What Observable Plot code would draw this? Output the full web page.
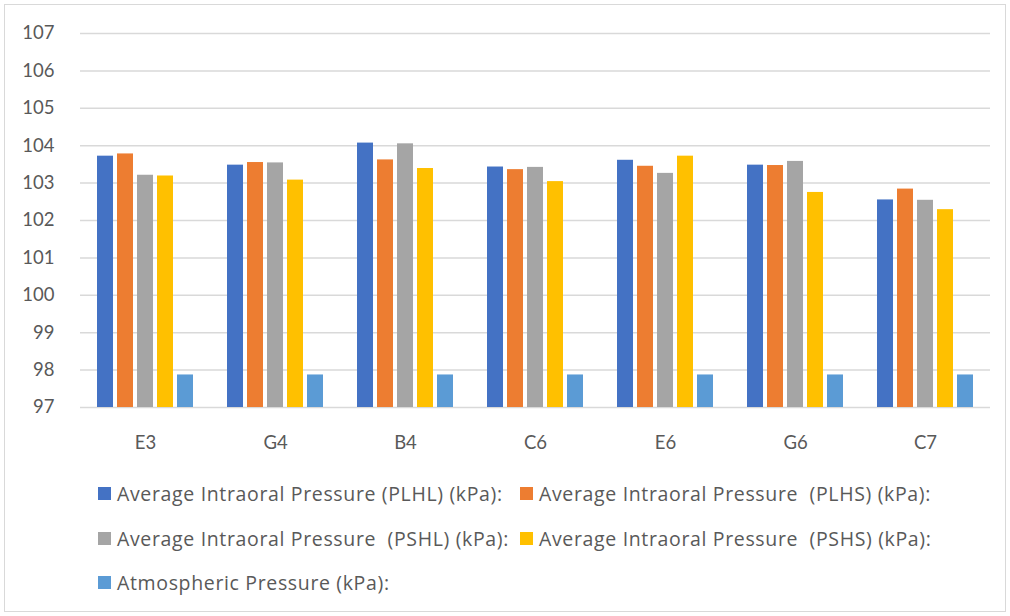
<!DOCTYPE html>
<html>
<head>
<meta charset="utf-8">
<script src="https://cdn.jsdelivr.net/npm/d3@7"></script>
<script src="https://cdn.jsdelivr.net/npm/@observablehq/plot@0.6"></script>
<style>
  body { margin: 0; width: 1010px; height: 616px; position: relative; background: #fff; font-family: "Open Sans", Lato, sans-serif; }
  #frame { position: absolute; left: 4px; top: 4px; width: 1002px; height: 608px; border: 1px solid #d9d9d9; box-sizing: border-box; }
  #chart { position: absolute; left: 0; top: 0; }
  .item { position: absolute; height: 24px; display: flex; align-items: center; white-space: pre; font-size: 19.5px; letter-spacing: 0.65px; color: #595959; }
  .sw { width: 13px; height: 13px; margin-right: 6px; flex: none; }
</style>
</head>
<body>
<div id="frame"></div>
<div id="chart"></div>
<div id="legend"></div>
<script>
// Notes played
const notes = ["E3", "G4", "B4", "C6", "E6", "G6", "C7"];

// Series labels and colours
const seriesNames = [
  "Average Intraoral Pressure (PLHL) (kPa):",
  "Average Intraoral Pressure  (PLHS) (kPa):",
  "Average Intraoral Pressure  (PSHL) (kPa):",
  "Average Intraoral Pressure  (PSHS) (kPa):",
  "Atmospheric Pressure (kPa):"
];
const seriesColors = ["#4472C4", "#ED7D31", "#A5A5A5", "#FFC000", "#5B9BD5"];

// Pressure values (kPa), one entry per note
const plhl = [103.72, 103.48, 104.07, 103.43, 103.61, 103.48, 102.55];
const plhs = [103.78, 103.55, 103.62, 103.36, 103.45, 103.47, 102.84];
const pshl = [103.21, 103.54, 104.05, 103.42, 103.26, 103.58, 102.54];
const pshs = [103.19, 103.08, 103.39, 103.04, 103.72, 102.75, 102.29];
const atmospheric = [97.87, 97.87, 97.87, 97.87, 97.87, 97.87, 97.87];

const yTicks = [97, 98, 99, 100, 101, 102, 103, 104, 105, 106, 107];

const seriesValues = [plhl, plhs, pshl, pshs, atmospheric];
const rows = seriesValues.flatMap((vals, s) =>
  vals.map((v, i) => ({ note: notes[i], series: s, value: v }))
);

// Clustered bars: each series is offset inside the note's band
const barWidth = 16, barStep = 20, bandWidth = 130;
const inset = (bandWidth - barWidth) / 2;

const barMarks = seriesValues.map((_, s) =>
  Plot.barY(rows.filter(d => d.series === s), {
    x: "note",
    y1: 97,
    y2: "value",
    fill: seriesColors[s],
    insetLeft: inset,
    insetRight: inset,
    dx: (s - 2) * barStep
  })
);

const chart = Plot.plot({
  width: 1010,
  height: 470,
  marginLeft: 80,
  marginRight: 20,
  marginTop: 33,
  marginBottom: 63,
  style: { fontFamily: "Lato, 'Open Sans', sans-serif", fontSize: "18.5px", color: "#595959", background: "transparent" },
  x: { domain: notes, padding: 0 },
  y: { domain: [97, 107] },
  marks: [
    Plot.ruleY(yTicks, { stroke: "#d9d9d9", strokeWidth: 1.5 }),
    ...barMarks,
    Plot.axisY(yTicks, { tickSize: 0, tickPadding: 26, label: null, fontSize: 18.5 }),
    Plot.axisX({ tickSize: 0, tickPadding: 28, label: null, fontSize: 18.5 })
  ]
});
document.getElementById("chart").appendChild(chart);

// Legend below the plot, two columns
const legendPos = [
  { x: 98, y: 481 }, { x: 520, y: 481 },
  { x: 98, y: 526 }, { x: 520, y: 526 },
  { x: 98, y: 570 }
];
const legend = d3.select("#legend");
seriesNames.forEach((name, s) => {
  const item = legend.append("div").attr("class", "item")
    .style("left", legendPos[s].x + "px").style("top", legendPos[s].y + "px");
  item.append("div").attr("class", "sw").style("background", seriesColors[s]);
  item.append("span").text(name);
});
</script>
</body>
</html>
